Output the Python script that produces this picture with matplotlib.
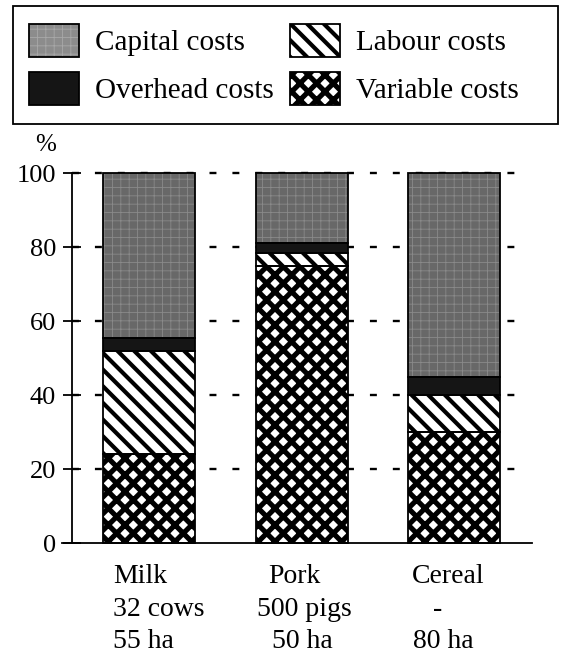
import matplotlib
matplotlib.use("Agg")
import matplotlib.pyplot as plt
from matplotlib.patches import Patch, Rectangle
from matplotlib.legend_handler import HandlerPatch
import numpy as np

# ---- data ----
categories = ["Milk", "Pork", "Cereal"]
herd = ["32 cows", "500 pigs", "-"]
area = ["55 ha", "50 ha", "80 ha"]
variable_costs = [24, 75, 30]
labour_costs = [28, 3.5, 10]
overhead_costs = [3.5, 2.5, 5]
capital_costs = [44.5, 19, 55]
yticks = [0, 20, 40, 60, 80, 100]

plt.rcParams["font.family"] = ["Liberation Serif", "DejaVu Serif"]
plt.rcParams["lines.scale_dashes"] = False

fig = plt.figure(figsize=(5.62, 6.66), dpi=100)
W, H = 562, 666
ax = fig.add_axes([62 / W, (H - 543) / H, (532 - 62) / W, 370 / H])

x = np.arange(len(categories))
px = 152.5  # pixels per category unit
spine_x = (72 - 149) / px
ax.set_xlim((62 - 149) / px, (532 - 149) / px)
ax.set_ylim(0, 100)


def set_hlw(p, hlw):
    if hasattr(p, "set_hatch_linewidth"):
        p.set_hatch_linewidth(hlw)


# series styles: (values, face, hatch, hatchcolor, hatch lw, label)
styles = [
    (variable_costs, "white", "xx", "black", 3.7, "Variable costs"),
    (labour_costs, "white", "\\\\", "black", 3.0, "Labour costs"),
    (overhead_costs, "#151515", None, "#151515", 1.0, "Overhead costs"),
    (capital_costs, "#686868", "++", "#8a8a8a", 0.6, "Capital costs"),
]
width = 92 / px
bottom = np.zeros(len(categories))
for vals, face, hatch, hcol, hlw, lab in styles:
    with plt.rc_context({"hatch.linewidth": hlw}):
        bars = ax.bar(x, vals, width, bottom=bottom, color=face, hatch=hatch,
                      edgecolor=hcol, linewidth=0, zorder=2, clip_on=False)
        for p in bars:
            set_hlw(p, hlw)
    ax.bar(x, vals, width, bottom=bottom, fill=False, edgecolor="black",
           linewidth=1.3, zorder=3, clip_on=False)
    bottom = bottom + np.array(vals)

# dashed grid lines
ax.hlines(yticks[1:], spine_x, (517 - 149) / px, colors="black", linewidth=1.7,
          linestyles=[(0, (5, 11.5))], zorder=1, clip_on=False)

# spines / ticks
for s in ["top", "right"]:
    ax.spines[s].set_visible(False)
ax.spines["left"].set_position(("data", spine_x))
ax.spines["left"].set_linewidth(1.3)
ax.spines["bottom"].set_linewidth(1.3)
ax.set_xticks([])
ax.set_yticks(yticks)
ax.tick_params(axis="y", direction="inout", length=13, width=1.3, pad=5, labelsize=19)

ax.text((46 - 62) / 470, (543 - 145) / 370, "%", transform=ax.transAxes,
        ha="center", va="center", fontsize=18)

# category labels (left edges in pixels, layout only)
left_px = [[113, 113, 113], [268, 257, 272], [412, 433, 413]]
line_y = [(543 - 583) / 370, (543 - 616) / 370, (543 - 648) / 370]
trans = ax.get_xaxis_transform()
for i in range(len(categories)):
    for j, (txt, yy) in enumerate(zip([categories[i], herd[i], area[i]], line_y)):
        ax.text((left_px[i][j] - 149) / px, yy, txt, transform=trans, ha="left",
                va="baseline", fontsize=20)


# legend
class HatchHandler(HandlerPatch):
    def create_artists(self, legend, orig_handle, xdescent, ydescent, width,
                       height, fontsize, trans):
        arts = super().create_artists(legend, orig_handle, xdescent, ydescent,
                                      width, height, fontsize, trans)
        for a in arts:
            set_hlw(a, getattr(orig_handle, "_want_hlw", 1.0))
            a.set_edgecolor(orig_handle.get_edgecolor())
        border = Rectangle((-xdescent, -ydescent), width, height, fill=False,
                           edgecolor="black", linewidth=1.3, transform=trans)
        return list(arts) + [border]


def handle(face, hatch, hcol, hlw):
    with plt.rc_context({"hatch.linewidth": hlw}):
        p = Patch(facecolor=face, hatch=hatch, edgecolor=hcol, linewidth=0)
        set_hlw(p, hlw)
    p._want_hlw = hlw
    return p


h_cap = handle("#8c8c8c", "++", "#a8a8a8", 0.6)
h_ovh = handle("#151515", None, "#151515", 1.0)
h_lab = handle("white", "\\\\", "black", 3.0)
h_var = handle("white", "xx", "black", 3.7)
fs = 21
fpx = fs * 100 / 72
leg = fig.legend([h_cap, h_ovh, h_lab, h_var],
                 ["Capital costs", "Overhead costs", "Labour costs", "Variable costs"],
                 handler_map={Patch: HatchHandler()},
                 ncol=2, loc="upper left", bbox_to_anchor=(29 / W, 1 - 24 / H),
                 frameon=False, borderpad=0, borderaxespad=0, fontsize=fs,
                 handlelength=50 / fpx, handleheight=1.36,
                 handletextpad=(95 - 79) / fpx, columnspacing=(293 - 277) / fpx,
                 labelspacing=0.52)
fig.patches.append(Rectangle((13 / W, 1 - 124 / H), (558 - 13) / W, (124 - 6) / H,
                             transform=fig.transFigure, fill=False,
                             edgecolor="black", linewidth=1.3))

fig.savefig("out.png", dpi=100)
